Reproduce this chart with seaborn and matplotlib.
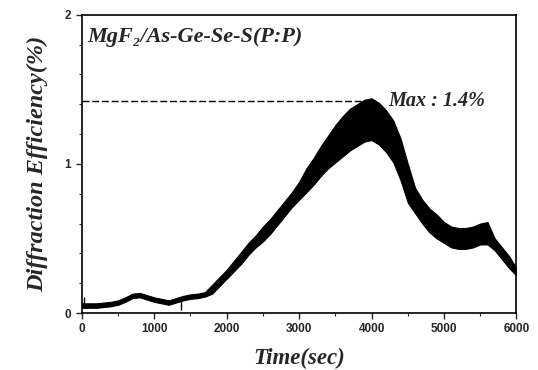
import numpy as np
import pandas as pd
import matplotlib
matplotlib.use("Agg")
import matplotlib.pyplot as plt
from matplotlib.ticker import MultipleLocator
import seaborn as sns

# time axis (sec), band of the noisy trace
time_s = list(range(0, 6001, 100))
eff_low = [0.035, 0.035, 0.035, 0.04, 0.045, 0.055, 0.075, 0.10, 0.105, 0.09,
           0.075, 0.065, 0.055, 0.07, 0.085, 0.095, 0.10, 0.11, 0.13, 0.18,
           0.23, 0.28, 0.33, 0.39, 0.44, 0.48, 0.53, 0.59, 0.65, 0.71,
           0.76, 0.81, 0.86, 0.92, 0.97, 1.01, 1.05, 1.09, 1.12, 1.15,
           1.16, 1.13, 1.08, 1.01, 0.89, 0.74, 0.67, 0.60, 0.54, 0.50,
           0.47, 0.44, 0.43, 0.43, 0.44, 0.46, 0.46, 0.42, 0.36, 0.30, 0.25]
eff_high = [0.065, 0.065, 0.065, 0.07, 0.075, 0.085, 0.105, 0.13, 0.135, 0.12,
            0.105, 0.095, 0.085, 0.10, 0.115, 0.125, 0.13, 0.14, 0.19, 0.24,
            0.29, 0.35, 0.41, 0.47, 0.52, 0.58, 0.63, 0.69, 0.75, 0.81,
            0.88, 0.97, 1.04, 1.12, 1.19, 1.26, 1.32, 1.37, 1.40, 1.43,
            1.44, 1.41, 1.36, 1.29, 1.17, 1.00, 0.84, 0.76, 0.70, 0.66,
            0.61, 0.58, 0.57, 0.57, 0.58, 0.60, 0.61, 0.50, 0.44, 0.38, 0.30]

# isolated spikes in the trace: time, bottom, top
spike_t = [30, 1370]
spike_lo = [0.04, 0.02]
spike_hi = [0.11, 0.10]

max_time = 3950
max_value = 1.42

df = pd.DataFrame({"t": time_s, "lo": eff_low, "hi": eff_high})
df["mid"] = (df["lo"] + df["hi"]) / 2

sns.set_style("ticks")
plt.rcParams["font.family"] = ["Liberation Serif", "DejaVu Serif"]

fig = plt.figure(figsize=(5.38, 3.70), dpi=100)
ax = fig.add_axes([0.152, 0.154, 0.808, 0.806])

ax.fill_between(df["t"], df["lo"], df["hi"], color="black", linewidth=0.8)
sns.lineplot(data=df, x="t", y="mid", color="black", linewidth=1.5, ax=ax)
ax.vlines(spike_t, spike_lo, spike_hi, color="black", linewidth=1.0)

ax.plot([0, max_time], [max_value, max_value], color="black",
        linestyle=(0, (5, 2)), linewidth=1.0)
ax.text(max_time + 280, max_value, "Max : 1.4%", fontsize=14.5,
        fontweight="bold", fontstyle="italic", va="center", ha="left")
ax.text(0.012, 0.96, "MgF\u2082/As-Ge-Se-S(P:P)", transform=ax.transAxes,
        fontsize=16, fontweight="bold", fontstyle="italic", va="top", ha="left")

ax.set_xlim(0, 6000)
ax.set_ylim(0, 2)
ax.xaxis.set_major_locator(MultipleLocator(1000))
ax.xaxis.set_minor_locator(MultipleLocator(500))
ax.yaxis.set_major_locator(MultipleLocator(1))
ax.yaxis.set_minor_locator(MultipleLocator(0.2))
ax.tick_params(which="major", direction="out", length=4, width=1)
ax.tick_params(which="minor", direction="out", length=2.5, width=0.8)
for lab in ax.get_xticklabels() + ax.get_yticklabels():
    lab.set_family(["Liberation Sans", "DejaVu Sans"])
    lab.set_fontweight("bold")
    lab.set_fontsize(8.5)

ax.set_xlabel("Time(sec)", fontsize=16.5, fontweight="bold", fontstyle="italic",
              labelpad=9)
ax.set_ylabel("Diffraction Efficiency(%)", fontsize=17.5, fontweight="bold",
              fontstyle="italic", labelpad=12)
for sp in ax.spines.values():
    sp.set_visible(True)
    sp.set_linewidth(1.2)
    sp.set_color("black")

fig.savefig("out.png", dpi=100)
